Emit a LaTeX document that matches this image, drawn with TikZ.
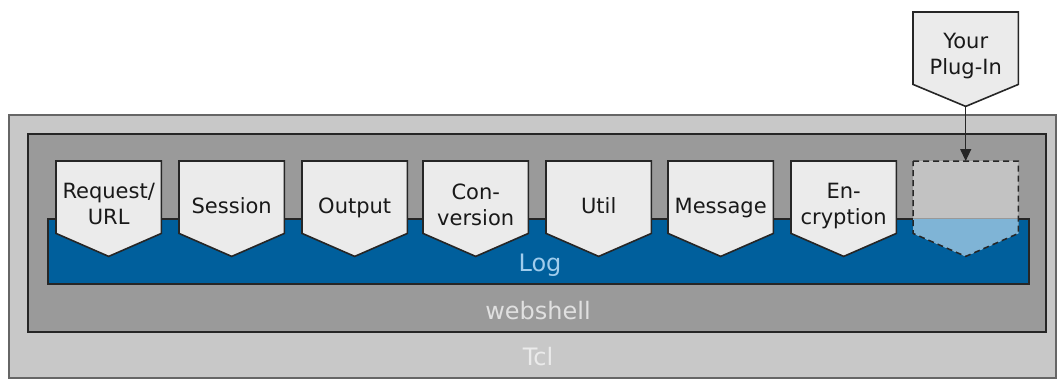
\documentclass[tikz,border=0pt]{standalone}
\usepackage{fontspec}
\setmainfont{DejaVu Sans}
\usetikzlibrary{arrows.meta,calc}
\definecolor{tclgrey}{HTML}{C8C8C8}
\definecolor{wsgrey}{HTML}{9A9A9A}
\definecolor{logblue}{HTML}{005F9C}
\definecolor{logtext}{HTML}{A0CCEC}
\definecolor{pentfill}{HTML}{EBEBEB}
\definecolor{edge}{HTML}{262626}
\definecolor{slotgrey}{HTML}{C2C2C2}
\definecolor{slotblue}{HTML}{7FB4D6}
\begin{document}
\begin{tikzpicture}[x=1pt,y=-1pt,
  layerbox/.style={draw=edge, line width=1.6pt},
  body/.style={minimum width=105pt, minimum height=72pt, inner sep=0pt, anchor=north west},
  pent/.style={draw=edge, line width=1.6pt, fill=pentfill, line join=miter},
  lbl/.style={font=\fontsize{21}{26}\selectfont, align=center, text=black!90, inner sep=0pt,
    execute at begin node=\strut, execute at end node=\strut},
  biglbl/.style={font=\fontsize{24}{28}\selectfont, inner sep=0pt}]
\useasboundingbox (0,0) rectangle (1057,378);
% layers
\node[layerbox, draw=black!60, fill=tclgrey, minimum width=1047pt, minimum height=263pt, anchor=north west, inner sep=0pt] (tcl) at (8,114) {};
\node[layerbox, fill=wsgrey, minimum width=1018pt, minimum height=198pt, anchor=north west, inner sep=0pt] (ws) at (27,133) {};
\node[layerbox, fill=logblue, minimum width=981pt, minimum height=65pt, anchor=north west, inner sep=0pt] (log) at (47,218) {};
\node[biglbl, text=logtext] (logl) at (540,265) {Log};
\node[biglbl, text=white!88!black] (wsl) at (538,311) {webshell};
\node[biglbl, text=white!92!black] (tcll) at (538,357) {Tcl};
% modules
\foreach \n/\x/\t in {m1/56/{Request/\\URL}, m2/179/Session, m3/302/Output, m4/423/{Con-\\version}, m5/546/Util, m6/668/Message, m7/791/{En-\\cryption}}{
  \node[body] (\n) at (\x,161) {};
  \draw[pent] (\n.north west) -- (\n.north east) -- (\n.south east) -- ($(\n.south)+(0,23)$) -- (\n.south west) -- cycle;
  \node[lbl] (\n t) at ($(\n.center)+(0,11)$) {\t};
}
% slot for plug-in
\node[body] (slot) at (913,161) {};
\fill[slotgrey] (slot.north west) -- (slot.north east) -- (slot.south east) -- ($(slot.south)+(0,23)$) -- (slot.south west) -- cycle;
\begin{scope}
  \clip (900,218) rectangle (1030,260);
  \fill[slotblue] (slot.north west) -- (slot.north east) -- (slot.south east) -- ($(slot.south)+(0,23)$) -- (slot.south west) -- cycle;
\end{scope}
\draw[black!40, line width=1pt] (slot.west |- log.north) -- (slot.east |- log.north);
\draw[edge, line width=1.5pt, dash pattern=on 6pt off 4pt] (slot.north west) -- (slot.north east) -- (slot.south east) -- ($(slot.south)+(0,23)$) -- (slot.south west) -- cycle;
% plug-in
\node[body] (plug) at (913,12) {};
\draw[pent] (plug.north west) -- (plug.north east) -- (plug.south east) -- ($(plug.south)+(0,22)$) -- (plug.south west) -- cycle;
\node[lbl] (plugt) at ($(plug.center)+(0,10)$) {Your\\Plug-In};
\coordinate (plugtip) at ($(plug.south)+(0,22)$);
\draw[edge, line width=1.3pt, -{Triangle[length=12pt,width=11pt]}] (plugtip) -- (slot.north);
\end{tikzpicture}
\end{document}
